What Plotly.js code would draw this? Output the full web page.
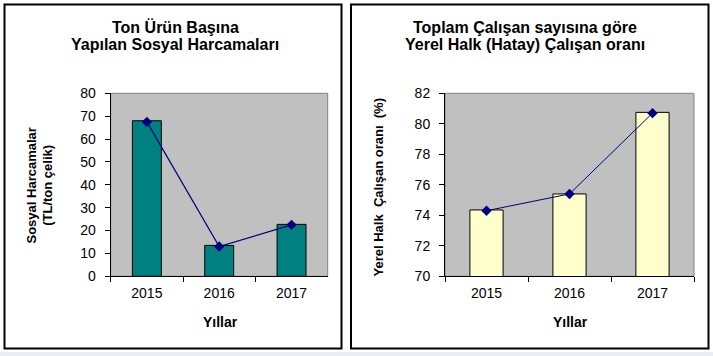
<!DOCTYPE html>
<html>
<head>
<meta charset="utf-8">
<script src="https://cdn.plot.ly/plotly-3.0.1.min.js"></script>
<style>html,body{margin:0;padding:0;background:#fff;}#chart{width:713px;height:356px;}</style>
</head>
<body>
<div id="chart"></div>
<script>
// ---- data ----
var categories = ['2015', '2016', '2017'];
var harcamaBars = [68, 13.5, 22.7];
var harcamaLine = [67.5, 13, 22.5];
var oranBars = [74.35, 75.4, 80.75];
var oranLine = [74.3, 75.4, 80.7];
var leftTitle = ['Ton Ürün Başına', 'Yapılan Sosyal Harcamaları'];
var rightTitle = ['Toplam Çalışan sayısına göre', 'Yerel Halk (Hatay) Çalışan oranı'];
var leftYTitle = ['Sosyal Harcamalar', '(TL/ton çelik)'];
var rightYTitle = 'Yerel Halk\u00a0 Çalışan oranı\u00a0 (%)';
var xTitle = 'Yıllar';

// ---- layout helpers ----
var W = 713, H = 356;
function px(x) { return x / W; }
function py(y) { return 1 - y / H; }
var FONT = '"Liberation Sans", Arial, sans-serif';

var traces = [
  {type: 'bar', x: categories, y: harcamaBars, xaxis: 'x', yaxis: 'y', width: 0.4,
   marker: {color: '#008080', line: {color: '#000000', width: 1}}},
  {type: 'scatter', mode: 'lines+markers', x: categories, y: harcamaLine, xaxis: 'x', yaxis: 'y',
   line: {color: '#000080', width: 1.2}, marker: {symbol: 'diamond', size: 8, color: '#000080'}},
  {type: 'bar', x: categories, y: oranBars, xaxis: 'x2', yaxis: 'y2', width: 0.4,
   marker: {color: '#ffffcc', line: {color: '#000000', width: 1}}},
  {type: 'scatter', mode: 'lines+markers', x: categories, y: oranLine, xaxis: 'x2', yaxis: 'y2',
   line: {color: '#000080', width: 1}, marker: {symbol: 'diamond', size: 8, color: '#000080'}}
];

function xAxis(d0, d1, anchor) {
  return {domain: [d0, d1], anchor: anchor, type: 'category', range: [-0.5, 2.5],
    tickson: 'boundaries', ticks: 'outside', ticklen: 5, tickcolor: '#000', tickwidth: 1,
    ticklabelstandoff: 4,
    showline: true, linecolor: '#000', linewidth: 1, showgrid: false, zeroline: false,
    tickfont: {family: FONT, size: 14, color: '#000'}, fixedrange: true};
}
function yAxis(r, dt, anchor) {
  return {domain: [py(276.3), py(93.3)], anchor: anchor, range: r, dtick: dt,
    ticks: 'outside', ticklen: 5, tickcolor: '#000', tickwidth: 1, ticklabelstandoff: 6,
    showline: true, linecolor: '#000', linewidth: 1, showgrid: false, zeroline: false,
    tickfont: {family: FONT, size: 14, color: '#000'}, fixedrange: true};
}

function ann(text, x, y, size, angle) {
  return {text: text, xref: 'paper', yref: 'paper', x: px(x), y: py(y),
    xanchor: 'center', yanchor: 'middle', showarrow: false, textangle: angle || 0,
    font: {family: FONT, size: size, color: '#000', weight: 'bold'}};
}

var layout = {
  width: W, height: H,
  margin: {l: 0, r: 0, t: 0, b: 0},
  paper_bgcolor: '#ffffff', plot_bgcolor: '#c0c0c0',
  showlegend: false, hovermode: false,
  xaxis: xAxis(px(110.7), px(327.7), 'y'),
  yaxis: yAxis([0, 80], 10, 'x'),
  xaxis2: xAxis(px(445), px(694), 'y2'),
  yaxis2: yAxis([70, 82], 2, 'x2'),
  shapes: [
    {type: 'rect', xref: 'x domain', yref: 'y domain', x0: 0, x1: 1, y0: 0, y1: 1,
     line: {color: '#808080', width: 1}, layer: 'below'},
    {type: 'rect', xref: 'x2 domain', yref: 'y2 domain', x0: 0, x1: 1, y0: 0, y1: 1,
     line: {color: '#808080', width: 1}, layer: 'below'},
    {type: 'rect', xref: 'paper', yref: 'paper', x0: px(4.5), x1: px(341.5), y0: py(348.5), y1: py(4.5),
     line: {color: '#000', width: 2}},
    {type: 'rect', xref: 'paper', yref: 'paper', x0: px(351), x1: px(708.5), y0: py(348.5), y1: py(4.5),
     line: {color: '#000', width: 2}},
    {type: 'rect', xref: 'paper', yref: 'paper', x0: 0, x1: 1, y0: 0, y1: py(352),
     fillcolor: '#e9ecf5', line: {width: 0}}
  ],
  annotations: [
    ann(leftTitle[0], 175, 27, 16),
    ann(leftTitle[1], 174.7, 44.5, 16),
    ann(rightTitle[0], 525.3, 27, 16),
    ann(rightTitle[1], 525, 44.5, 16),
    ann(leftYTitle[0], 31, 185.5, 13, -90),
    ann(leftYTitle[1], 47.3, 185.5, 13, -90),
    ann(rightYTitle, 378, 187.5, 13, -90),
    ann(xTitle, 220.8, 322, 14),
    ann(xTitle, 570.3, 322, 14)
  ]
};

Plotly.newPlot('chart', traces, layout, {staticPlot: true, displayModeBar: false});
</script>
</body>
</html>
